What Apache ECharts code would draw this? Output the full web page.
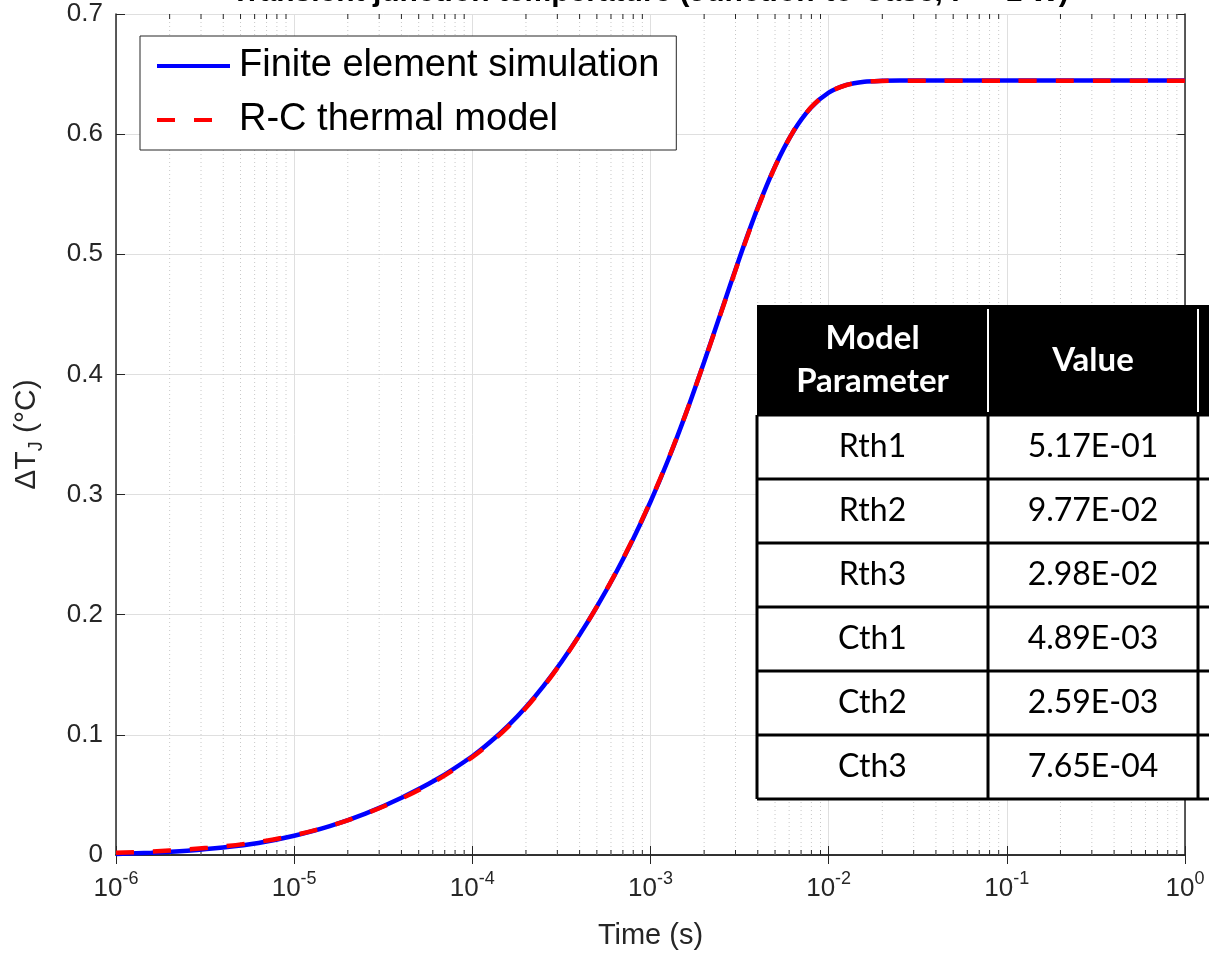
<!DOCTYPE html>
<html>
<head>
<meta charset="utf-8">
<script src="https://cdn.jsdelivr.net/npm/echarts@6/dist/echarts.min.js"></script>
<style>
  html, body { margin: 0; padding: 0; background: #fff; }
  #chart { width: 1209px; height: 955px; }
</style>
</head>
<body>
<div id="chart"></div>
<script>
// time axis (s)
const timeSec = [
  1e-6, 1.585e-6, 2.512e-6, 3.981e-6, 6.31e-6,
  1e-5, 1.585e-5, 2.512e-5, 3.981e-5, 6.31e-5,
  1e-4, 1.259e-4, 1.585e-4, 1.995e-4, 2.512e-4, 3.162e-4, 3.981e-4, 5.012e-4, 6.31e-4, 7.943e-4,
  1e-3, 1.259e-3, 1.585e-3, 1.995e-3, 2.512e-3, 3.162e-3, 3.981e-3, 5.012e-3, 6.31e-3, 7.943e-3,
  1e-2, 1.259e-2, 1.585e-2, 1.995e-2, 2.512e-2, 3.981e-2,
  1e-1, 3.162e-1, 1
]
// junction temperature rise (°C)
const feSim = [
  0.0008, 0.0019, 0.0036, 0.0062, 0.0100,
  0.0160, 0.0240, 0.0345, 0.0475, 0.0630,
  0.0822, 0.0940, 0.1075, 0.1230, 0.1408, 0.1607, 0.1828, 0.2070, 0.2333, 0.2622,
  0.2940, 0.3292, 0.3680, 0.4100, 0.4537, 0.4972, 0.5380, 0.5735, 0.6018, 0.6220,
  0.6345, 0.6410, 0.6437, 0.6444, 0.6446, 0.6446,
  0.6446, 0.6446, 0.6446
]
const rcModel = [
  0.0019, 0.0029, 0.0046, 0.0071, 0.0109,
  0.0164, 0.0241, 0.0343, 0.0469, 0.0622,
  0.0814, 0.0931, 0.1067, 0.1223, 0.1402, 0.1603, 0.1826, 0.2070, 0.2336, 0.2627,
  0.2945, 0.3296, 0.3681, 0.4097, 0.4531, 0.4965, 0.5375, 0.5733, 0.6019, 0.6222,
  0.6346, 0.6409, 0.6435, 0.6443, 0.6445, 0.6445,
  0.6445, 0.6445, 0.6445
]

// table overlay
const tableHeader = ['Model\nParameter', 'Value']
const paramNames = ['Rth1', 'Rth2', 'Rth3', 'Cth1', 'Cth2', 'Cth3']
const paramValues = ['5.17E-01', '9.77E-02', '2.98E-02', '4.89E-03', '2.59E-03', '7.65E-04']

const axisFont = '"Liberation Sans", Arial, Helvetica, sans-serif'
const tableFont = 'Lato, "Noto Sans", sans-serif'
const axisColor = '#262626'

// minor log ticks 2..9 in every decade
const minorTicks = []
for (let d = -6; d < 0; d++) {
  for (let m = 2; m <= 9; m++) minorTicks.push(m * Math.pow(10, d))
}

// table layout
const colX = [757, 988, 1198, 1215]
const headTop = 305
const headBottom = 415
const rowH = 64

const tableEls = []
tableEls.push({ type: 'rect', shape: { x: colX[0], y: headTop, width: colX[3] - colX[0], height: headBottom - headTop }, style: { fill: '#000' }, z: 100 })
tableEls.push({ type: 'rect', shape: { x: colX[0], y: headBottom, width: colX[3] - colX[0], height: rowH * paramNames.length }, style: { fill: '#fff' }, z: 100 })
for (let i = 0; i <= paramNames.length; i++) {
  const y = headBottom + i * rowH
  tableEls.push({ type: 'line', shape: { x1: colX[0], y1: y, x2: colX[3], y2: y }, style: { stroke: '#000', lineWidth: 3 }, z: 101 })
}
for (let c = 0; c < 3; c++) {
  tableEls.push({ type: 'line', shape: { x1: colX[c], y1: headBottom, x2: colX[c], y2: headBottom + rowH * paramNames.length }, style: { stroke: '#000', lineWidth: 3 }, z: 101 })
}
for (let c = 1; c < 3; c++) {
  tableEls.push({ type: 'line', shape: { x1: colX[c], y1: headTop + 4, x2: colX[c], y2: headBottom - 3 }, style: { stroke: '#fff', lineWidth: 2 }, z: 101 })
}
tableHeader.forEach((h, c) => {
  tableEls.push({
    type: 'text', z: 102,
    x: (colX[c] + colX[c + 1]) / 2, y: (headTop + headBottom) / 2,
    style: { text: h, fill: '#fff', font: 'bold 33px ' + tableFont, align: 'center', verticalAlign: 'middle', lineHeight: 43 }
  })
})
paramNames.forEach((name, i) => {
  const yc = headBottom + i * rowH + rowH / 2
  tableEls.push({ type: 'text', z: 102, x: (colX[0] + colX[1]) / 2, y: yc, style: { text: name, fill: '#000', font: '32px ' + tableFont, align: 'center', verticalAlign: 'middle' } })
  tableEls.push({ type: 'text', z: 102, x: (colX[1] + colX[2]) / 2, y: yc, style: { text: paramValues[i], fill: '#000', font: '32px ' + tableFont, align: 'center', verticalAlign: 'middle' } })
})

// title, clipped at the top edge as in the picture
tableEls.push({
  type: 'text', z: 102, x: 650, y: 8,
  style: { text: 'Transient junction temperature (Junction-to-Case, P = 1 W)', fill: '#000', font: 'bold 30px ' + axisFont, align: 'center', verticalAlign: 'bottom' }
})

const chart = echarts.init(document.getElementById('chart'))

const option = {
  animation: false,
  backgroundColor: '#fff',
  grid: { left: 116, right: 24, top: 14, bottom: 97, containLabel: false },
  legend: {
    data: ['Finite element simulation', 'R-C thermal model'],
    orient: 'vertical',
    left: 140,
    top: 36,
    itemWidth: 73,
    itemHeight: 30,
    itemGap: 16,
    padding: [11, 17, 11, 15],
    borderColor: axisColor,
    borderWidth: 1,
    backgroundColor: '#fff',
    itemStyle: { opacity: 0 },
    lineStyle: { width: 4 },
    textStyle: { fontSize: 38, fontFamily: axisFont, color: '#000', padding: [0, 0, 0, 4] }
  },
  xAxis: [
    {
      type: 'log', logBase: 10, min: 1e-6, max: 1, splitNumber: 6,
      position: 'bottom',
      axisLine: { lineStyle: { color: axisColor, width: 1.5 } },
      axisTick: { inside: true, length: 9, lineStyle: { color: axisColor } },
      axisLabel: {
        margin: 15,
        formatter: v => '{b|10}{s|' + Math.round(Math.log10(v)) + '}',
        rich: {
          b: { fontSize: 26, fontFamily: axisFont, color: axisColor, lineHeight: 32, verticalAlign: 'bottom' },
          s: { fontSize: 18, fontFamily: axisFont, color: axisColor, lineHeight: 16, verticalAlign: 'top' }
        }
      },
      splitLine: { show: true, lineStyle: { color: '#dfdfdf', width: 1 } },
      name: 'Time (s)',
      nameLocation: 'middle',
      nameGap: 66,
      nameTextStyle: { fontSize: 29, fontFamily: axisFont, color: axisColor }
    },
    {
      type: 'log', logBase: 10, min: 1e-6, max: 1, splitNumber: 6,
      position: 'top',
      axisLine: { show: true, lineStyle: { color: axisColor, width: 1.5 } },
      axisTick: { inside: true, length: 9, lineStyle: { color: axisColor } },
      axisLabel: { show: false },
      splitLine: { show: false }
    }
  ],
  yAxis: [
    {
      type: 'value', min: 0, max: 0.7, interval: 0.1,
      axisLine: { show: true, lineStyle: { color: axisColor, width: 1.5 } },
      axisTick: { show: true, inside: true, length: 9, lineStyle: { color: axisColor } },
      axisLabel: {
        margin: 13,
        fontSize: 26, fontFamily: axisFont, color: axisColor,
        formatter: v => (v === 0 ? '0' : v.toFixed(1))
      },
      splitLine: { show: true, lineStyle: { color: '#dfdfdf', width: 1 } },
      name: '{a|ΔT}{j|J}{a| (°C)}',
      nameLocation: 'middle',
      nameGap: 70,
      nameTextStyle: {
        rich: {
          a: { fontSize: 30, fontFamily: axisFont, color: axisColor, lineHeight: 38, verticalAlign: 'middle' },
          j: { fontSize: 20, fontFamily: axisFont, color: axisColor, lineHeight: 20, verticalAlign: 'bottom' }
        }
      }
    },
    {
      type: 'value', min: 0, max: 0.7, interval: 0.1,
      position: 'right',
      axisLine: { show: true, lineStyle: { color: axisColor, width: 1.5 } },
      axisTick: { show: true, inside: true, length: 9, lineStyle: { color: axisColor } },
      axisLabel: { show: false },
      splitLine: { show: false }
    }
  ],
  graphic: { elements: tableEls },
  series: [
    {
      // minor log grid and ticks
      type: 'custom',
      silent: true,
      z: 1,
      xAxisIndex: 0,
      yAxisIndex: 0,
      encode: { x: 0, y: 1 },
      data: minorTicks.map(v => [v, 0]),
      renderItem: (params, api) => {
        const x = api.value(0)
        const b = api.coord([x, 0])
        const t = api.coord([x, 0.7])
        return {
          type: 'group',
          children: [
            { type: 'line', shape: { x1: b[0], y1: b[1], x2: t[0], y2: t[1] }, style: { stroke: '#c8c8c8', lineWidth: 1, lineDash: [1, 3] } },
            { type: 'line', shape: { x1: b[0], y1: b[1], x2: b[0], y2: b[1] - 5 }, style: { stroke: axisColor, lineWidth: 1 } },
            { type: 'line', shape: { x1: t[0], y1: t[1], x2: t[0], y2: t[1] + 5 }, style: { stroke: axisColor, lineWidth: 1 } }
          ]
        }
      }
    },
    {
      name: 'Finite element simulation',
      type: 'line',
      z: 3,
      symbol: 'none',
      smooth: 0.3,
      color: '#0000ff',
      lineStyle: { color: '#0000ff', width: 4.5 },
      data: timeSec.map((t, i) => [t, feSim[i]])
    },
    {
      name: 'R-C thermal model',
      type: 'line',
      z: 4,
      symbol: 'none',
      smooth: 0.3,
      color: '#ff0000',
      lineStyle: { color: '#ff0000', width: 4.5, type: [18, 19] },
      data: timeSec.map((t, i) => [t, rcModel[i]])
    }
  ]
}

chart.setOption(option)
</script>
</body>
</html>
